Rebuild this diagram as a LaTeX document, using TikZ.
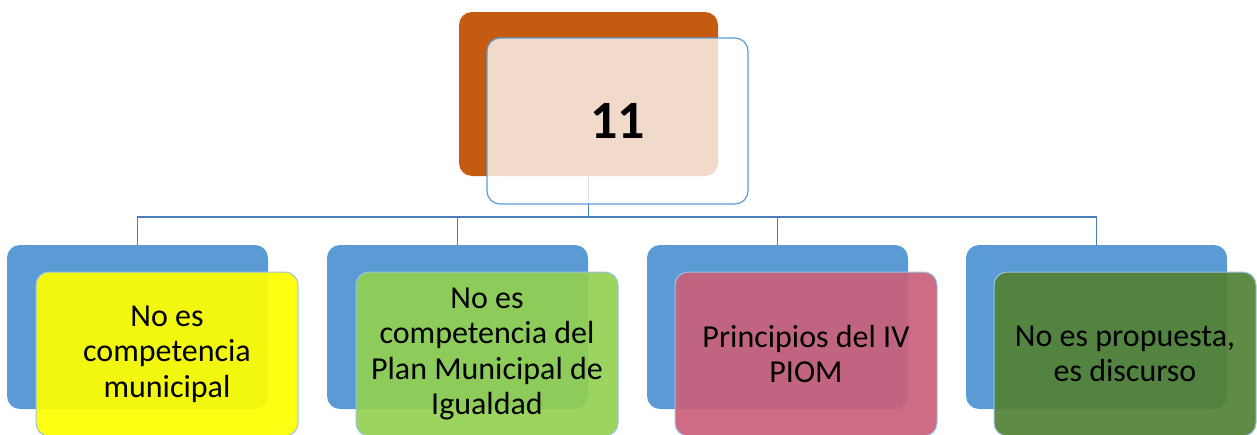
\documentclass[tikz,border=0pt]{standalone}
\usepackage{fontspec}
\setmainfont{Carlito}
\definecolor{orangeC}{HTML}{C55A11}
\definecolor{blueC}{HTML}{5B9BD5}
\definecolor{lineC}{HTML}{4A7EBB}
\definecolor{rimC}{HTML}{9DC3E6}
\definecolor{yellowC}{HTML}{FFFF00}
\definecolor{lgreenC}{HTML}{92D050}
\definecolor{pinkC}{HTML}{C9607A}
\definecolor{dgreenC}{HTML}{538135}
\tikzset{
  backbox/.style={rounded corners=13pt, fill=blueC, draw=none, minimum width=261pt, minimum height=164pt, inner sep=0pt},
  frontbox/.style={rounded corners=13pt, draw=rimC, line width=1pt, fill opacity=0.92, text opacity=1, minimum width=262pt, minimum height=164pt, inner sep=0pt, align=center, font=\fontsize{32}{35.5}\selectfont},
  conn/.style={draw=lineC, line width=1.3pt},
}
\begin{document}
\begin{tikzpicture}[x=1pt,y=-1pt]
\useasboundingbox (0,0) rectangle (1257,434);
\clip (0,0) rectangle (1257,434);
% top
\node[rounded corners=13pt, fill=orangeC, minimum width=259pt, minimum height=164pt, inner sep=0pt] (o) at (588.5,94) {};
\coordinate (hub) at (588.5,217);
\node[backbox] (b1) at (137.5,327) {};
\node[backbox] (b2) at (457.5,327) {};
\node[backbox] (b3) at (777.5,327) {};
\node[backbox] (b4) at (1096.5,327) {};
\draw[conn] (o.south) -- (hub) -| (b1.north);
\draw[conn] (hub) -| (b2.north);
\draw[conn] (hub) -| (b3.north);
\draw[conn] (hub) -| (b4.north);
\node[rounded corners=13pt, draw=blueC, line width=1.2pt, fill=white, fill opacity=0.78, text opacity=1, minimum width=261pt, minimum height=166pt, inner sep=0pt, font=\fontsize{54}{60}\selectfont\bfseries] (t) at (617.5,121) {11};
\node[frontbox, fill=yellowC] (f1) at (167,354) {No es\\competencia\\municipal};
\node[frontbox, fill=lgreenC] (f2) at (487,354) {No es\\competencia del\\Plan Municipal de\\Igualdad};
\node[frontbox, fill=pinkC] (f3) at (806,354) {Principios del IV\\PIOM};
\node[frontbox, fill=dgreenC] (f4) at (1125,354) {No es propuesta,\\es discurso};
\end{tikzpicture}
\end{document}
